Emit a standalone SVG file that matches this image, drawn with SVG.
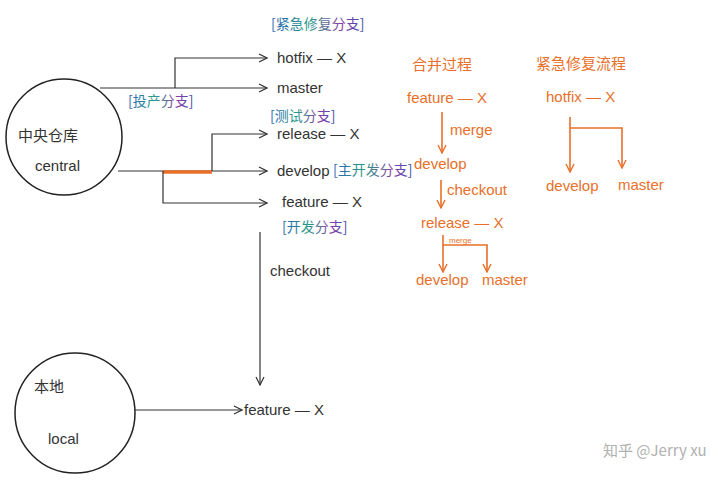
<svg xmlns="http://www.w3.org/2000/svg" width="720" height="480" viewBox="0 0 720 480">
<defs>
<linearGradient id="rb" x1="0" y1="0" x2="1" y2="0">
<stop offset="0" stop-color="#2f5fb5"/>
<stop offset="0.4" stop-color="#2a9c8c"/>
<stop offset="0.75" stop-color="#8b3fa3"/>
<stop offset="1" stop-color="#3b4fb0"/>
</linearGradient>
<marker id="ak" viewBox="0 0 10 10" refX="9" refY="5" markerWidth="10" markerHeight="10" markerUnits="userSpaceOnUse" orient="auto">
<path d="M1,1 L9,5 L1,9" fill="none" stroke="#333" stroke-width="1.2"/>
</marker>
<marker id="ao" viewBox="0 0 10 10" refX="9" refY="5" markerWidth="10" markerHeight="10" markerUnits="userSpaceOnUse" orient="auto">
<path d="M1,1 L9,5 L1,9" fill="none" stroke="#e8702a" stroke-width="1.4"/>
</marker>
</defs>
<style>
.k{fill:none;stroke:#333;stroke-width:1.2}
.o{fill:none;stroke:#e8702a;stroke-width:1.6}
.t{font-family:"Liberation Sans","Noto Sans CJK SC",sans-serif;font-size:15px;fill:#333}
.ot{font-family:"Liberation Sans","Noto Sans CJK SC",sans-serif;font-size:15px;fill:#e8702a}
.g{font-family:"Noto Sans CJK SC",sans-serif;font-size:14px;fill:url(#rb)}
.node{fill:#fff;stroke:#222;stroke-width:1.5}
</style>
<rect width="720" height="480" fill="#fff"/>

<g id="connectors">
<path class="k" d="M100,88 L267,88" marker-end="url(#ak)"/>
<path class="k" d="M175,88 L175,58 L267,58" marker-end="url(#ak)"/>
<path class="k" d="M118,171 L267,171" marker-end="url(#ak)"/>
<path d="M163,172 L212,172" fill="none" stroke="#e8702a" stroke-width="3.5"/>
<path class="k" d="M212,171 L212,134 L267,134" marker-end="url(#ak)"/>
<path class="k" d="M163,171 L163,203 L267,203" marker-end="url(#ak)"/>
<path class="k" d="M260,232 L260,385" marker-end="url(#ak)"/>
<path class="k" d="M135,410 L242,410" marker-end="url(#ak)"/>
<path class="o" d="M442,112 L442,153" marker-end="url(#ao)"/>
<path class="o" d="M441,180 L441,208" marker-end="url(#ao)"/>
<path class="o" d="M443,235 L443,272" marker-end="url(#ao)"/>
<path class="o" d="M443,245 L487,245 L487,272" marker-end="url(#ao)"/>
<path class="o" d="M570,117 L570,172" marker-end="url(#ao)"/>
<path class="o" d="M570,128 L622,128 L622,168" marker-end="url(#ao)"/>
</g>

<g id="central">
<circle class="node" cx="64" cy="137" r="58"/>
<text class="t" x="18" y="141">中央仓库</text>
<text class="t" x="35" y="171">central</text>
</g>
<g id="local">
<circle class="node" cx="75" cy="413" r="60"/>
<text class="t" x="34" y="392">本地</text>
<text class="t" x="48" y="444">local</text>
</g>

<g id="hotfix">
<text class="g" x="271" y="29">[紧急修复分支]</text>
<text class="t" x="277" y="63">hotfix — X</text>
</g>
<g id="master">
<text class="t" x="277" y="93">master</text>
<text class="g" x="128" y="106">[投产分支]</text>
</g>
<g id="release">
<text class="g" x="270" y="121">[测试分支]</text>
<text class="t" x="277" y="139">release — X</text>
</g>
<g id="develop">
<text class="t" x="277" y="176">develop</text>
<text class="g" x="333" y="175">[主开发分支]</text>
</g>
<g id="feature">
<text class="t" x="282" y="207">feature — X</text>
<text class="g" x="282" y="232">[开发分支]</text>
</g>
<text class="t" x="270" y="276">checkout</text>
<g id="local-feature">
<text class="t" x="244" y="415">feature — X</text>
</g>

<g id="merge-flow">
<text class="ot" x="412" y="70">合并过程</text>
<text class="ot" x="407" y="103">feature — X</text>
<text class="ot" x="450" y="135">merge</text>
<text class="ot" x="414" y="169">develop</text>
<text class="ot" x="447" y="195">checkout</text>
<text class="ot" x="421" y="228">release — X</text>
<text class="ot" x="449" y="243" style="font-size:8px">merge</text>
<text class="ot" x="416" y="285">develop</text>
<text class="ot" x="482" y="285">master</text>
</g>
<g id="hotfix-flow">
<text class="ot" x="536" y="69">紧急修复流程</text>
<text class="ot" x="546" y="102">hotfix — X</text>
<text class="ot" x="546" y="191">develop</text>
<text class="ot" x="618" y="190">master</text>
</g>

<text x="603" y="456" style="font-family:'Noto Sans CJK SC',sans-serif;font-size:15px;fill:#b0b0b0">知乎 @Jerry xu</text>
</svg>
